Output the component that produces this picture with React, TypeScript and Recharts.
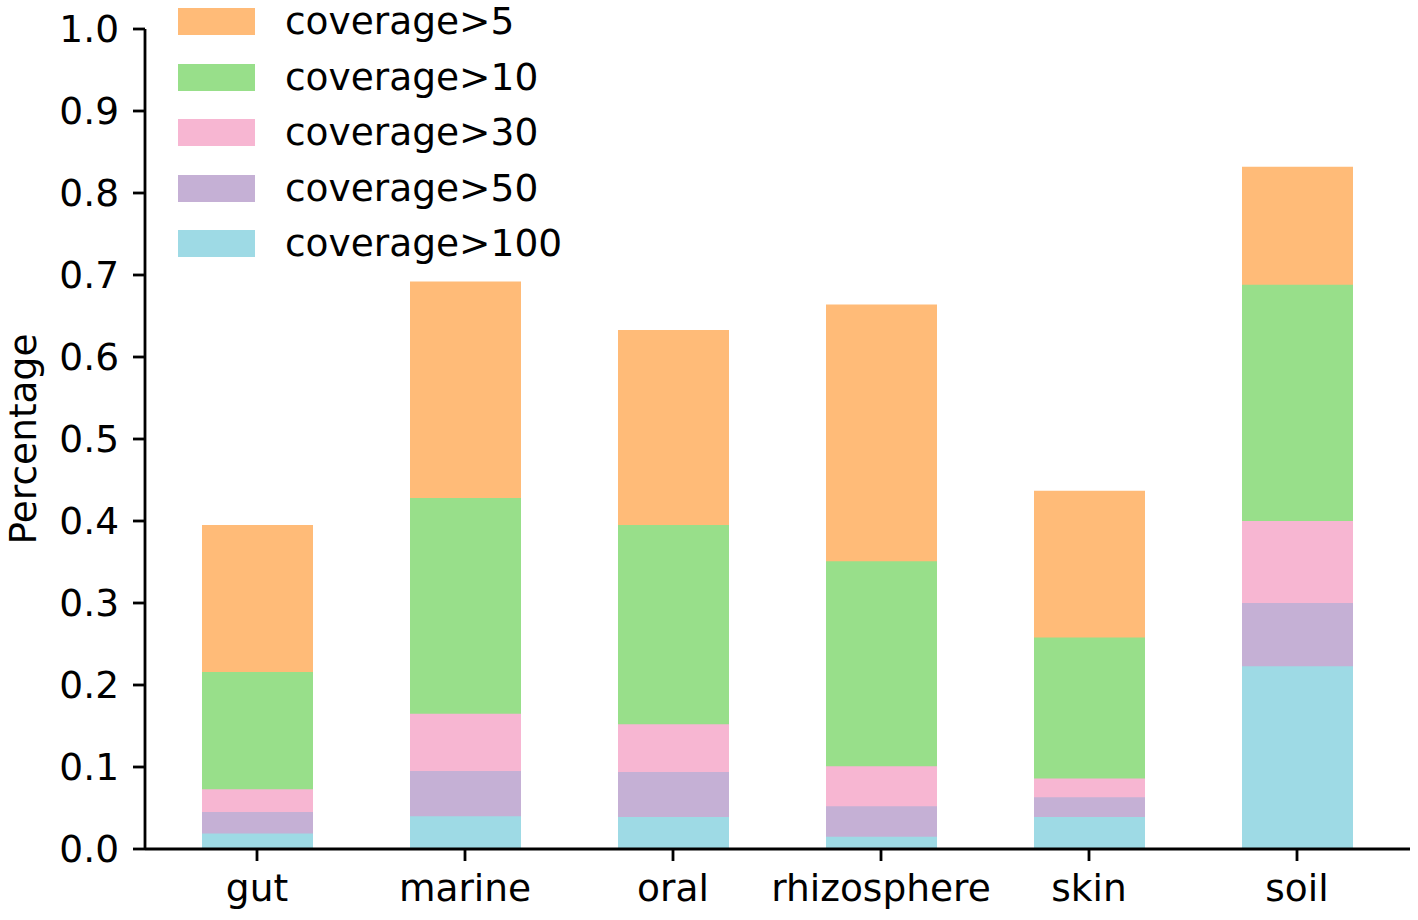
import React from "react";
import { BarChart, Bar, XAxis, YAxis, Legend } from "recharts";

const categories = ["gut", "marine", "oral", "rhizosphere", "skin", "soil"];
const cov5 = [0.395, 0.692, 0.633, 0.664, 0.437, 0.832];
const cov10 = [0.216, 0.428, 0.395, 0.351, 0.258, 0.688];
const cov30 = [0.073, 0.165, 0.152, 0.101, 0.086, 0.4];
const cov50 = [0.045, 0.095, 0.094, 0.052, 0.063, 0.3];
const cov100 = [0.019, 0.04, 0.039, 0.015, 0.039, 0.223];
const yTicks = [0, 0.1, 0.2, 0.3, 0.4, 0.5, 0.6, 0.7, 0.8, 0.9, 1.0];

const seriesNames = ["coverage>5", "coverage>10", "coverage>30", "coverage>50", "coverage>100"];
const seriesKeys = ["c5", "c10", "c30", "c50", "c100"];
const seriesColors = ["#ffbb78", "#98df8a", "#f7b6d2", "#c5b0d5", "#9edae5"];
const seriesValues = [cov5, cov10, cov30, cov50, cov100];

const data = categories.map((name, i) => {
  const row: Record<string, number | string> = { name };
  seriesKeys.forEach((k, j) => {
    row[k] = seriesValues[j][i];
  });
  return row;
});

const FONT = "'DejaVu Sans', sans-serif";
const FS = 37.5;

const renderLegend = () => (
  <div style={{ display: "flex", flexDirection: "column", fontFamily: FONT }}>
    {seriesNames.map((n, i) => (
      <div key={n} style={{ display: "flex", alignItems: "center", height: 55.5 }}>
        <div style={{ width: 77, height: 27, background: seriesColors[i], marginRight: 30 }} />
        <span style={{ fontSize: FS, color: "#000", lineHeight: 1 }}>{n}</span>
      </div>
    ))}
  </div>
);

const renderYLabel = (props: any) => {
  const vb = props.viewBox || { x: 0, y: 29, width: 145, height: 820 };
  const cx = vb.x + 23;
  const cy = vb.y + vb.height / 2;
  return (
    <text
      x={cx}
      y={cy}
      transform={`rotate(-90, ${cx}, ${cy})`}
      textAnchor="middle"
      dominantBaseline="central"
      fontSize={FS}
      fontFamily={FONT}
      fill="#000"
    >
      Percentage
    </text>
  );
};

export default function App() {
  return (
    <div style={{ position: "absolute", left: 0, top: 0, width: 1418, height: 920, background: "#fff" }}>
      <BarChart
        width={1418}
        height={920}
        data={data}
        margin={{ top: 29, right: 8, bottom: 11, left: 0 }}
        barSize={111}
        barGap={-111}
      >
        <XAxis
          dataKey="name"
          height={60}
          interval={0}
          padding={{ left: 8, right: 9 }}
          axisLine={{ stroke: "#000", strokeWidth: 2.8 }}
          tickLine={{ stroke: "#000", strokeWidth: 2.8 }}
          tickSize={12}
          tickMargin={13}
          tick={{ fill: "#000", fontSize: FS, fontFamily: FONT }}
        />
        <YAxis
          width={145}
          domain={[0, 1]}
          ticks={yTicks}
          interval={0}
          tickFormatter={(v: number) => v.toFixed(1)}
          axisLine={{ stroke: "#000", strokeWidth: 2.8 }}
          tickLine={{ stroke: "#000", strokeWidth: 2.8 }}
          tickSize={12}
          tickMargin={14}
          tick={{ fill: "#000", fontSize: FS, fontFamily: FONT }}
          label={{ content: renderYLabel }}
        />
        <Legend
          layout="vertical"
          align="center"
          verticalAlign="middle"
          content={renderLegend}
          wrapperStyle={{ top: -6, left: 178, width: 440, height: 280 }}
        />
        {seriesKeys.map((k, i) => (
          <Bar key={k} dataKey={k} name={seriesNames[i]} fill={seriesColors[i]} isAnimationActive={false} />
        ))}
      </BarChart>
    </div>
  );
}
